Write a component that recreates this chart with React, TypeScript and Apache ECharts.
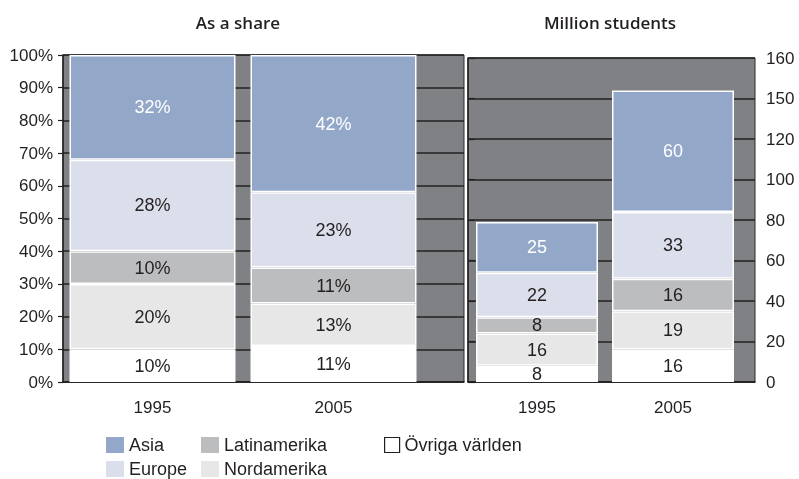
import React, { useEffect, useRef } from "react";
import * as echarts from "echarts";

const years = ["1995", "2005"];
const seriesNames = ["Övriga världen", "Nordamerika", "Latinamerika", "Europe", "Asia"];
const seriesColors = ["#ffffff", "#e6e7e6", "#bcbdbf", "#dbdfeb", "#93a8c9"];
const labelColors = ["#231f20", "#231f20", "#231f20", "#231f20", "#ffffff"];

// As a share (%)
const shareOvriga = [10, 11];
const shareNord = [20, 13];
const shareLatin = [10, 11];
const shareEurope = [28, 23];
const shareAsia = [32, 42];

// Million students
const milOvriga = [8, 16];
const milNord = [16, 19];
const milLatin = [8, 16];
const milEurope = [22, 33];
const milAsia = [25, 60];

const rightTickLabels = ["0", "20", "40", "60", "80", "100", "120", "150", "160"];

const FONT = '"Liberation Sans", Arial, sans-serif';
const TITLE_FONT = '"Open Sans", "Noto Sans", sans-serif';
const GRAY = "#808185";
const INK = "#231f20";

export default function App() {
  const ref = useRef<HTMLDivElement>(null);
  useEffect(() => {
    if (!ref.current) return;
    const chart = echarts.init(ref.current, undefined, { renderer: "svg" });
    const shareData = [shareOvriga, shareNord, shareLatin, shareEurope, shareAsia];
    const milData = [milOvriga, milNord, milLatin, milEurope, milAsia];

    const mk = (data: number[], i: number, xi: number, yi: number, stack: string, pct: boolean, bw: number) => ({
      type: "bar",
      name: seriesNames[i],
      stack,
      xAxisIndex: xi,
      yAxisIndex: yi,
      barWidth: bw,
      data,
      itemStyle: { color: seriesColors[i], borderColor: "#ffffff", borderWidth: 1.5 },
      label: {
        show: true,
        position: "inside",
        formatter: (p: any) => (pct ? p.value + "%" : String(p.value)),
        color: labelColors[i],
        fontFamily: FONT,
        fontSize: 18,
      },
      emphasis: { disabled: true },
    });

    const series: any[] = [];
    shareData.forEach((d, i) => series.push(mk(d, i, 1, 1, "share", true, 166)));
    milData.forEach((d, i) => series.push(mk(d, i, 3, 3, "mil", false, 122)));

    const legendText = { fontFamily: FONT, fontSize: 18, color: INK };
    const legendItem = (name: string) => {
      const i = seriesNames.indexOf(name);
      return {
        name,
        itemStyle: i === 0 ? { color: "#ffffff", borderColor: INK, borderWidth: 1.2 } : { color: seriesColors[i], borderWidth: 0 },
      };
    };
    const legendBase = {
      orient: "vertical",
      top: 436,
      itemWidth: 18,
      itemHeight: 16,
      itemGap: 6,
      icon: "rect",
      selectedMode: false,
      textStyle: legendText,
      padding: 0,
    };

    chart.setOption({
      animation: false,
      textStyle: { fontFamily: FONT },
      grid: [
        { left: 63, top: 55, width: 401, height: 327, show: true, backgroundColor: GRAY, borderColor: "#2a2a2a", borderWidth: 1 },
        { left: 62, top: 55, width: 362, height: 327 },
        { left: 468, top: 58, width: 287, height: 324, show: true, backgroundColor: GRAY, borderColor: "#2a2a2a", borderWidth: 1 },
        { left: 469, top: 58, width: 272, height: 324 },
      ],
      xAxis: [
        { gridIndex: 0, type: "value", show: true, min: 0, max: 1, axisLine: { show: true, lineStyle: { color: INK, width: 1.5 } }, axisTick: { show: false }, axisLabel: { show: false }, splitLine: { show: false } },
        { gridIndex: 1, type: "category", data: years, axisLine: { show: false }, axisTick: { show: false }, axisLabel: { color: INK, fontSize: 17, margin: 17, fontFamily: FONT } },
        { gridIndex: 2, type: "value", show: true, min: 0, max: 1, axisLine: { show: true, lineStyle: { color: INK, width: 1.5 } }, axisTick: { show: false }, axisLabel: { show: false }, splitLine: { show: false } },
        { gridIndex: 3, type: "category", data: years, axisLine: { show: false }, axisTick: { show: false }, axisLabel: { color: INK, fontSize: 17, margin: 17, fontFamily: FONT } },
      ],
      yAxis: [
        {
          gridIndex: 0, type: "value", min: 0, max: 100, interval: 10,
          axisLine: { show: true, lineStyle: { color: INK, width: 1.5 } },
          axisTick: { show: true, length: 5, lineStyle: { color: INK, width: 1.2 } },
          axisLabel: { formatter: "{value}%", color: INK, fontSize: 17, margin: 10, fontFamily: FONT },
          splitLine: { show: true, lineStyle: { color: "#222", width: 1.5 } },
        },
        { gridIndex: 1, type: "value", min: 0, max: 100, show: false, splitLine: { show: false } },
        {
          gridIndex: 2, type: "value", position: "right", min: 0, max: 160, interval: 20,
          axisLine: { show: true, lineStyle: { color: INK, width: 1.5 } },
          axisTick: { show: true, length: 7, lineStyle: { color: INK, width: 1.2 } },
          axisLabel: { formatter: (v: number) => rightTickLabels[Math.round(v / 20)] ?? "", color: INK, fontSize: 17, margin: 11, fontFamily: FONT },
          splitLine: { show: true, lineStyle: { color: "#222", width: 1.5 } },
        },
        { gridIndex: 3, type: "value", min: 0, max: 160, show: false, splitLine: { show: false } },
      ],
      legend: [
        { ...legendBase, left: 106, data: ["Asia", "Europe"].map(legendItem) },
        { ...legendBase, left: 201, data: ["Latinamerika", "Nordamerika"].map(legendItem) },
        { ...legendBase, left: 384, itemWidth: 15, itemHeight: 15, data: ["Övriga världen"].map(legendItem) },
      ],
      graphic: [
        { type: "text", x: 238, y: 22, style: { text: "As a share", font: `600 17px ${TITLE_FONT}`, fill: INK, textAlign: "center", textVerticalAlign: "middle" } },
        { type: "text", x: 610, y: 22, style: { text: "Million students", font: `600 17px ${TITLE_FONT}`, fill: INK, textAlign: "center", textVerticalAlign: "middle" } },
      ],
      series,
    });
    return () => chart.dispose();
  }, []);
  return <div ref={ref} style={{ position: "fixed", left: 0, top: 0, width: 799, height: 479 }} />;
}
